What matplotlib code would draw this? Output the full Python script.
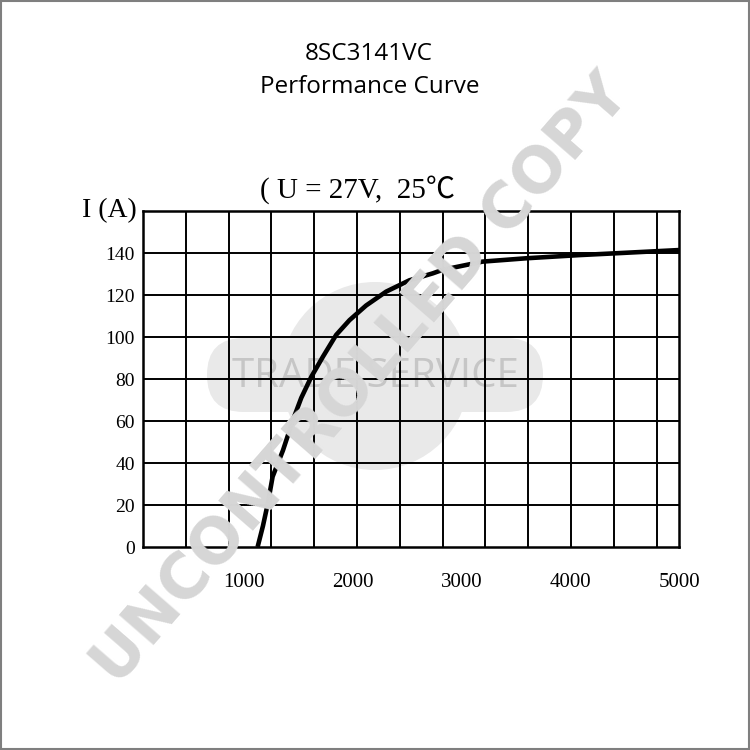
"""Alternator performance curve, 8SC3141VC (U = 27V, 25C)."""
import matplotlib
matplotlib.use("Agg")
import matplotlib.pyplot as plt
from matplotlib.patches import Circle, FancyBboxPatch, Rectangle

# curve: speed (rpm) vs output current (A)
speed = [1128, 1177, 1223, 1266, 1361, 1453, 1529, 1621, 1728, 1850,
         1972, 2125, 2309, 2523, 2737, 2829, 3195, 3600, 4083, 4394, 5000]
current = [0, 10, 21, 33.5, 46, 60.5, 71, 81, 90.6, 101,
           108, 115, 121.6, 127, 130.3, 132, 135.9, 137.5, 139, 139.8, 141.4]

x_ticks = [1000, 2000, 3000, 4000, 5000]
y_ticks = [0, 20, 40, 60, 80, 100, 120, 140]

TITLE = "8SC3141VC"
SUBTITLE = "Performance Curve"
CONDITION = "( U = 27V,  25℃"

fig = plt.figure(figsize=(7.5, 7.5), dpi=100)
ax = fig.add_axes([143 / 750, 203 / 750, 536 / 750, 336 / 750])
ax.set_facecolor("none")

x_lo, x_hi = 75, 5000
ax.set_xlim(x_lo, x_hi)
ax.set_ylim(0, 160)

# logo behind the grid
logo_col = "#e9e9e9"
fig.patches.append(FancyBboxPatch((207 / 750, 1 - 412 / 750), 336 / 750, 74 / 750,
                                  boxstyle="round,pad=0,rounding_size=0.049",
                                  transform=fig.transFigure, fc=logo_col, ec="none",
                                  zorder=-5))
fig.patches.append(Circle((375 / 750, 1 - 376 / 750), 94 / 750,
                          transform=fig.transFigure, fc=logo_col, ec="none", zorder=-5))
fig.text(375 / 750, 1 - 377 / 750, "TRADE SERVICE", ha="center", va="center",
         fontsize=29, color="#c6c6c6", family="Open Sans", zorder=-4)

# grid: the printed grid cells do not line up with the rpm labels
cell = 42.8 / 536 * (x_hi - x_lo)
ax.vlines([x_lo + cell * k for k in range(1, 13)], 0, 160, color="black", lw=1.4)
ax.hlines(y_ticks[1:], x_lo, x_hi, color="black", lw=1.4)
for s in ax.spines.values():
    s.set_linewidth(1.8)

ax.plot(speed, current, color="black", lw=3.3, solid_capstyle="butt",
        solid_joinstyle="round")

ax.set_xticks(x_ticks)
ax.set_yticks(y_ticks)
ax.tick_params(length=0)
ax.tick_params(axis="x", pad=19)
ax.tick_params(axis="y", pad=6)
for lab in ax.get_xticklabels():
    lab.set_family("Liberation Serif")
    lab.set_fontsize(15)
for lab in ax.get_yticklabels():
    lab.set_family("Liberation Serif")
    lab.set_fontsize(14)

ax.text(-0.012, 1.0, "I (A)", transform=ax.transAxes, ha="right", va="center",
        family="Liberation Serif", fontsize=20)

fig.text(369 / 750, 1 - 54 / 750, TITLE, ha="center", va="center",
         fontsize=17.5, family="Open Sans")
fig.text(370 / 750, 1 - 87 / 750, SUBTITLE, ha="center", va="center",
         fontsize=17.5, family="Open Sans")
fig.text(358 / 750, 1 - 190 / 750, CONDITION, ha="center", va="center",
         fontsize=21, family=["Liberation Serif", "Noto Sans CJK SC"])

# watermark on top of everything
fig.text(362 / 750, 1 - 380 / 750, "UNCONTROLLED COPY", ha="center", va="center",
         rotation=49, rotation_mode="anchor", fontsize=45, fontweight="bold",
         family="DejaVu Sans", color="#d6d6d6", zorder=20)

fig.patches.append(Rectangle((0.001, 0.001), 0.998, 0.998, transform=fig.transFigure,
                             fill=False, ec="#7f7f7f", lw=1.5, zorder=30))

fig.savefig("out.png", dpi=100)
